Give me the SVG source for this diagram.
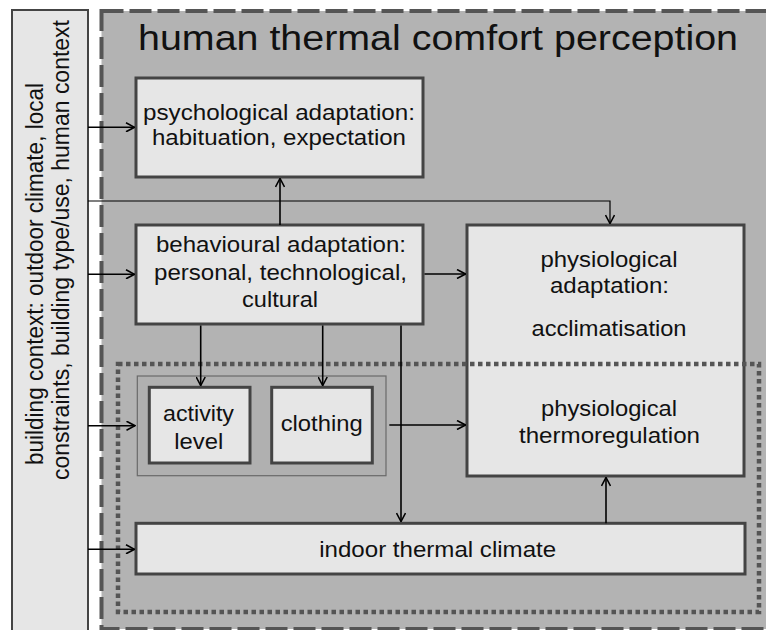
<svg xmlns="http://www.w3.org/2000/svg" width="766" height="630" viewBox="0 0 766 630">
<style>
text{font-family:"Liberation Sans",Arial,sans-serif;fill:#111;text-anchor:middle}
.t{font-size:22px}
.box{fill:#e6e6e6;stroke:#444;stroke-width:3}
.c{fill:none;stroke:#000;stroke-width:1.6}
.thin{stroke-width:1.2}
</style>
<defs>
<marker id="ah" viewBox="0 0 10 10" refX="9.5" refY="5" markerWidth="10" markerHeight="10" markerUnits="userSpaceOnUse" orient="auto">
<path d="M1,0.5 L9.5,5 L1,9.5" fill="none" stroke="#000" stroke-width="1.6"/>
</marker>
</defs>
<rect x="0" y="0" width="766" height="630" fill="#fff"/>
<g id="context">
<rect x="12" y="10" width="76" height="640" fill="#e6e6e6" stroke="#444" stroke-width="2"/>
<text class="t" font-size="23" transform="translate(42.5,274) rotate(-90)" textLength="382" lengthAdjust="spacingAndGlyphs" style="font-size:23px">building context: outdoor climate, local</text>
<text class="t" transform="translate(68.5,250) rotate(-90)" textLength="460" lengthAdjust="spacingAndGlyphs" style="font-size:23px">constraints, building type/use, human context</text>
</g>
<g id="perception">
<rect x="101.5" y="11" width="680" height="618" fill="#b3b3b3" stroke="#555" stroke-width="4" stroke-dasharray="22 6"/>
<text x="438" y="50" style="font-size:35px" textLength="600" lengthAdjust="spacingAndGlyphs">human thermal comfort perception</text>
</g>
<g id="psychological">
<rect class="box" x="136" y="78" width="287" height="99"/>
<text class="t" x="279" y="120" textLength="272" lengthAdjust="spacingAndGlyphs">psychological adaptation:</text>
<text class="t" x="279" y="145" textLength="254" lengthAdjust="spacingAndGlyphs">habituation, expectation</text>
</g>
<g id="behavioural">
<rect class="box" x="136" y="225" width="287" height="99"/>
<text class="t" x="281" y="252" textLength="250" lengthAdjust="spacingAndGlyphs">behavioural adaptation:</text>
<text class="t" x="280.5" y="279.5" textLength="253" lengthAdjust="spacingAndGlyphs">personal, technological,</text>
<text class="t" x="280" y="306.5" textLength="76" lengthAdjust="spacingAndGlyphs">cultural</text>
</g>
<g id="physiological">
<rect class="box" x="467" y="225" width="277" height="251"/>
<text class="t" x="609" y="266.7" textLength="137" lengthAdjust="spacingAndGlyphs">physiological</text>
<text class="t" x="609.5" y="292.7" textLength="119" lengthAdjust="spacingAndGlyphs">adaptation:</text>
<text class="t" x="609" y="335.5" textLength="155" lengthAdjust="spacingAndGlyphs">acclimatisation</text>
<text class="t" x="609" y="415.5" textLength="136" lengthAdjust="spacingAndGlyphs">physiological</text>
<text class="t" x="609.5" y="443.3" textLength="181" lengthAdjust="spacingAndGlyphs">thermoregulation</text>
</g>
<g id="personal-factors">
<rect x="137.3" y="376" width="248.7" height="99.7" fill="#b0b0b0" stroke="#6a6a6a" stroke-width="1.2"/>
</g>
<g id="activity">
<rect class="box" x="149.3" y="387.3" width="100.7" height="75.7"/>
<text class="t" x="198.5" y="421" textLength="71" lengthAdjust="spacingAndGlyphs">activity</text>
<text class="t" x="198.7" y="449" textLength="49" lengthAdjust="spacingAndGlyphs">level</text>
</g>
<g id="clothing">
<rect class="box" x="271.7" y="387.3" width="100.6" height="75.7"/>
<text class="t" x="321.7" y="431" textLength="82" lengthAdjust="spacingAndGlyphs">clothing</text>
</g>
<g id="indoor">
<rect class="box" x="136" y="523.3" width="609" height="50.7"/>
<text class="t" x="437.7" y="556.5" textLength="237" lengthAdjust="spacingAndGlyphs">indoor thermal climate</text>
</g>
<g id="indoor-boundary">
<rect x="118" y="364" width="641" height="248" fill="none" stroke="#555" stroke-width="4.5" stroke-dasharray="4.5 3.5"/>
</g>
<g id="connectors">
<path class="c" d="M88,127.3 H134.5" marker-end="url(#ah)"/>
<path class="c thin" d="M88,201 H610 V223.5" marker-end="url(#ah)"/>
<path class="c" d="M280,225 V178.5" marker-end="url(#ah)"/>
<path class="c" d="M88,274.3 H134.5" marker-end="url(#ah)"/>
<path class="c" d="M424.5,274 H465.5" marker-end="url(#ah)"/>
<path class="c" d="M200.7,325.5 V385.5" marker-end="url(#ah)"/>
<path class="c" d="M322.7,325.5 V385.5" marker-end="url(#ah)"/>
<path class="c" d="M401,325.5 V521.5" marker-end="url(#ah)"/>
<path class="c" d="M88,425.7 H135" marker-end="url(#ah)"/>
<path class="c" d="M389.3,425 H465.5" marker-end="url(#ah)"/>
<path class="c" d="M88,549.3 H134.5" marker-end="url(#ah)"/>
<path class="c" d="M606,523.3 V477.5" marker-end="url(#ah)"/>
</g>
</svg>
